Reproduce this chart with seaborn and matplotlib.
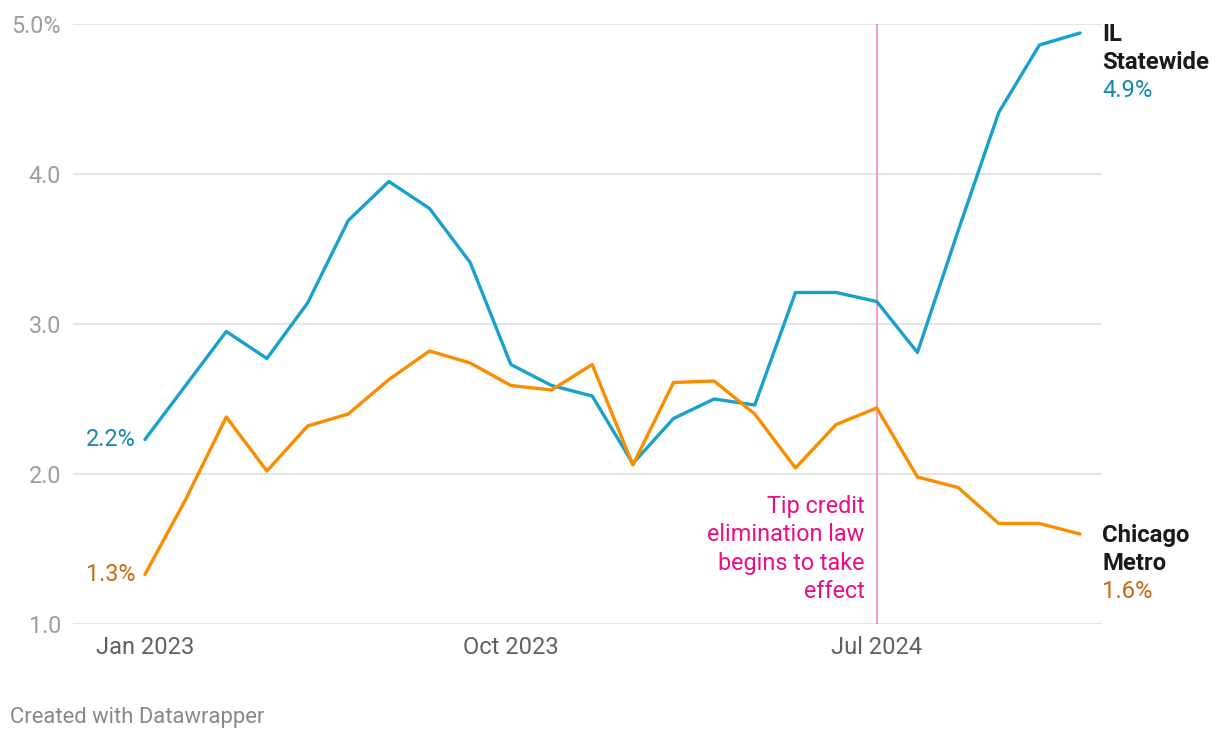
import numpy as np
import pandas as pd
import matplotlib
matplotlib.use('Agg')
import matplotlib.pyplot as plt
import seaborn as sns

# 월별 데이터 (Jan 2023 - Dec 2024)
months = list(range(24))
il_statewide = [2.23, 2.59, 2.95, 2.77, 3.14, 3.69, 3.95, 3.77, 3.41, 2.73, 2.59, 2.52,
                2.07, 2.37, 2.50, 2.46, 3.21, 3.21, 3.15, 2.81, 3.62, 4.41, 4.86, 4.94]
chicago_metro = [1.33, 1.83, 2.38, 2.02, 2.32, 2.40, 2.63, 2.82, 2.74, 2.59, 2.56, 2.73,
                 2.06, 2.61, 2.62, 2.40, 2.04, 2.33, 2.44, 1.98, 1.91, 1.67, 1.67, 1.60]
tick_pos = [0, 9, 18]
tick_labels = ['Jan 2023', 'Oct 2023', 'Jul 2024']
y_ticks = [1.0, 2.0, 3.0, 4.0, 5.0]
y_tick_labels = ['1.0', '2.0', '3.0', '4.0', '5.0%']

df = pd.DataFrame({
    'month': months * 2,
    'value': il_statewide + chicago_metro,
    'series': ['IL Statewide'] * 24 + ['Chicago Metro'] * 24,
})

sns.set_theme(style='white')
plt.rcParams['font.family'] = ['Roboto', 'DejaVu Sans']

blue = '#18a1cd'
blue_txt = '#1587b0'
orange = '#fa8c00'
orange_txt = '#c8690f'
pink = '#ec0d83'

fig = plt.figure(figsize=(12.2, 7.4), dpi=100)
ax = fig.add_axes([73 / 1220, 1 - 624 / 740, (1102 - 73) / 1220, 600 / 740])

for y in y_ticks:
    ax.axhline(y, color='#e2e2e2', lw=1.3, zorder=0)

sns.lineplot(data=df, x='month', y='value', hue='series',
             palette={'IL Statewide': blue, 'Chicago Metro': orange},
             lw=2.4, legend=False, ax=ax, zorder=3, clip_on=False)

# 팁 크레딧 법 시행 시점
ax.axvline(18, color='#f77fbe', lw=1.1, zorder=2)
ax.annotate('Tip credit\nelimination law\nbegins to take\neffect',
            xy=(18, 0.125), xycoords=('data', 'axes fraction'),
            xytext=(-9, 0), textcoords='offset points',
            ha='right', va='center', multialignment='right',
            fontsize=16.8, color=pink, linespacing=1.29)

ax.set_xlim(-1.77, 23.54)
ax.set_ylim(1, 5)
ax.set_xticks(tick_pos)
ax.set_xticklabels(tick_labels, fontsize=17, color='#606060')
ax.set_yticks(y_ticks)
ax.set_yticklabels(y_tick_labels, fontsize=16.8, color='#9d9d9d')
ax.tick_params(axis='y', length=0, pad=8.5)
ax.tick_params(axis='x', length=0, pad=9)
ax.set_xlabel('')
ax.set_ylabel('')
for s in ax.spines.values():
    s.set_visible(False)

# 오른쪽 라벨
def end_label(lines, y0, colors, weights):
    for k, (t, c, w) in enumerate(zip(lines, colors, weights)):
        ax.annotate(t, xy=(1.0, y0), xycoords=('axes fraction', 'data'),
                    xytext=(0, -20.3 * k), textcoords='offset points',
                    ha='left', va='center', fontsize=17.2, color=c,
                    fontweight=w, annotation_clip=False)

end_label(['IL', 'Statewide', f'{il_statewide[-1]:.1f}%'], il_statewide[-1] - 0.01,
          ['#1a1a1a', '#1a1a1a', blue_txt], ['bold', 'bold', 'normal'])
end_label(['Chicago', 'Metro', f'{chicago_metro[-1]:.1f}%'], chicago_metro[-1] - 0.01,
          ['#1a1a1a', '#1a1a1a', orange_txt], ['bold', 'bold', 'normal'])

# 왼쪽 시작값 라벨
ax.annotate(f'{il_statewide[0]:.1f}%', xy=(0, il_statewide[0]), xytext=(-7, 0),
            textcoords='offset points', ha='right', va='center',
            fontsize=16.8, color=blue_txt)
ax.annotate(f'{chicago_metro[0]:.1f}%', xy=(0, chicago_metro[0]), xytext=(-7, 0),
            textcoords='offset points', ha='right', va='center',
            fontsize=16.8, color=orange_txt)

fig.text(10 / 1220, 1 - 717 / 740, 'Created with Datawrapper',
         fontsize=15.8, color='#888888', va='center', ha='left')

fig.savefig('out.png', dpi=100, facecolor='white')
